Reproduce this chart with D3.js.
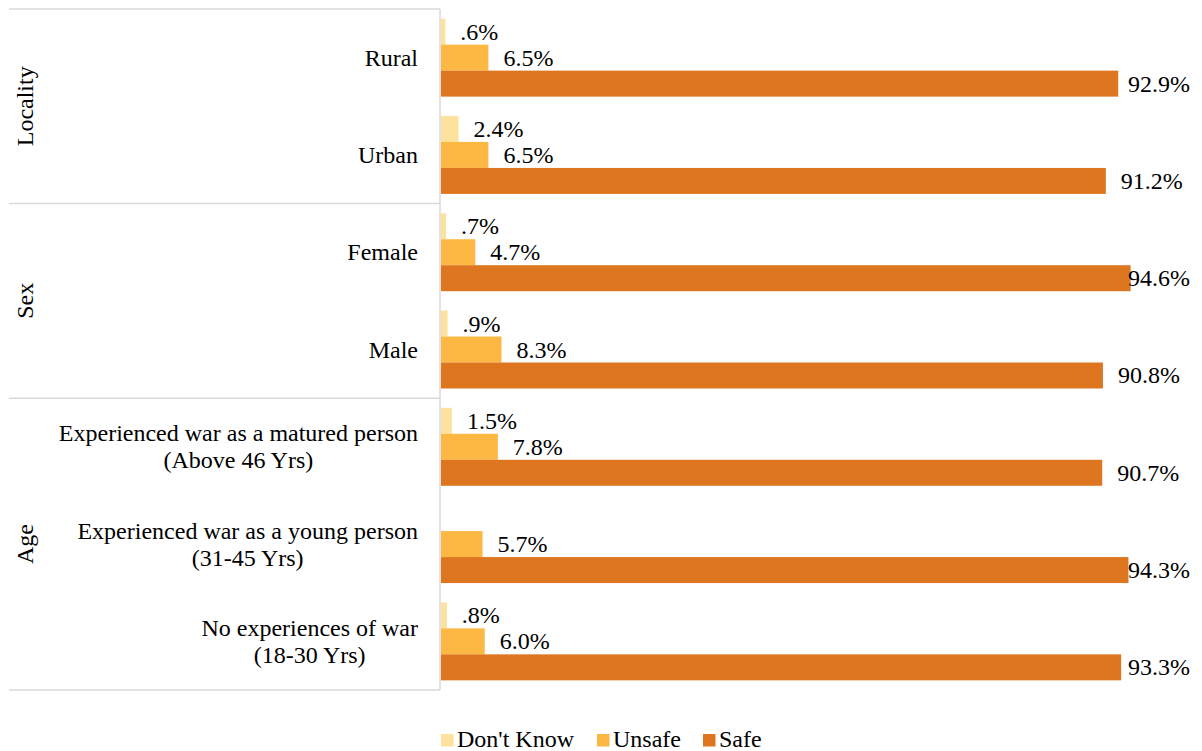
<!DOCTYPE html>
<html>
<head>
<meta charset="utf-8">
<script src="https://cdn.jsdelivr.net/npm/d3@7"></script>
<style>
  html, body { margin: 0; padding: 0; background: #fff; }
  svg { display: block; }
  text { font-family: "Liberation Serif", "Times New Roman", serif; fill: #000; }
</style>
</head>
<body>
<svg id="chart" width="1202" height="751"></svg>
<script>
// ---- data ----
const categories = [
  ["Rural"],
  ["Urban"],
  ["Female"],
  ["Male"],
  ["Experienced war as a matured person", "(Above 46 Yrs)"],
  ["Experienced war as a young person", "(31-45 Yrs)"],
  ["No experiences of war", "(18-30 Yrs)"]
];
const groups = ["Locality", "Sex", "Age"];
const groupSizes = [2, 2, 3];
const seriesNames = ["Don't Know", "Unsafe", "Safe"];
const dontKnow = [0.6, 2.4, 0.7, 0.9, 1.5, null, 0.8];
const unsafe   = [6.5, 6.5, 4.7, 8.3, 7.8, 5.7, 6.0];
const safe     = [92.9, 91.2, 94.6, 90.8, 90.7, 94.3, 93.3];
const colors = ["#FCE29C", "#FDB843", "#DE7620"];

// ---- layout ----
const svg = d3.select("#chart");
const FS = 24;
const plotTop = 9, plotBottom = 690, axisX = 440, leftX = 9, labelRight = 1190;

const rowIds = d3.range(categories.length);
const y = d3.scaleBand().domain(rowIds).range([plotTop, plotBottom]).paddingInner(0).paddingOuter(0);
const ySub = d3.scaleBand().domain(seriesNames).range([0, y.bandwidth()]).paddingInner(0).paddingOuter(0.371);
const x = d3.scaleLinear().domain([0, 100]).range([axisX + 1, 1170]);

const seriesData = [dontKnow, unsafe, safe];

const fmt = v => {
  const s = v.toFixed(1);
  return (s.startsWith("0.") ? s.slice(1) : s) + "%";
};

// bars
seriesNames.forEach((name, si) => {
  const g = svg.append("g");
  const data = rowIds.map(i => ({ i, v: seriesData[si][i] })).filter(d => d.v != null);
  g.selectAll("rect").data(data).enter().append("rect")
    .attr("x", x(0))
    .attr("y", d => y(d.i) + ySub(name))
    .attr("width", d => x(d.v) - x(0))
    .attr("height", ySub.bandwidth())
    .attr("fill", colors[si]);
  // labels
  const lbl = g.selectAll("text").data(data).enter().append("text")
    .attr("y", d => y(d.i) + ySub(name) + ySub.bandwidth() / 2 + 8)
    .attr("font-size", FS)
    .text(d => fmt(d.v));
  lbl.each(function(d) {
    const w = this.getComputedTextLength();
    const xx = Math.min(x(d.v) + 15, labelRight - w);
    d3.select(this).attr("x", xx);
  });
});

// grid / separator lines
const lineColor = "#D9D9D9";
svg.append("line").attr("x1", axisX).attr("x2", axisX).attr("y1", plotTop).attr("y2", plotBottom)
  .attr("stroke", lineColor).attr("stroke-width", 1.5);
let acc = 0;
const boundaries = [0];
groupSizes.forEach(n => { acc += n; boundaries.push(acc); });
boundaries.forEach(b => {
  const yy = b < categories.length ? y(b) : plotBottom;
  svg.append("line").attr("x1", leftX).attr("x2", axisX).attr("y1", yy).attr("y2", yy)
    .attr("stroke", lineColor).attr("stroke-width", 1.5);
});

// category labels
const catG = svg.append("g");
rowIds.forEach(i => {
  const lines = categories[i];
  const cy = y(i) + y.bandwidth() / 2 + 8;
  const t = catG.append("text").attr("font-size", FS).attr("text-anchor", "middle");
  const spans = lines.map((ln, k) => t.append("tspan")
    .attr("y", cy + (k - (lines.length - 1) / 2) * 27).text(ln));
  // right-align block at 418 with lines centered to each other
  let maxW = 0;
  spans.forEach(s => { maxW = Math.max(maxW, s.node().getComputedTextLength()); });
  const cx = 418 - maxW / 2;
  spans.forEach(s => s.attr("x", cx));
});

// group labels
groups.forEach((gname, gi) => {
  const y0 = y(boundaries[gi]);
  const y1 = boundaries[gi + 1] < categories.length ? y(boundaries[gi + 1]) : plotBottom;
  const cy = (y0 + y1) / 2;
  svg.append("text").attr("font-size", FS).attr("text-anchor", "middle")
    .attr("transform", `translate(33,${cy}) rotate(-90)`).text(gname);
});

// legend
const legendItems = [
  { name: seriesNames[0], sx: 441, tx: 457 },
  { name: seriesNames[1], sx: 597, tx: 613 },
  { name: seriesNames[2], sx: 703, tx: 719 }
];
const lg = svg.append("g");
legendItems.forEach((it, k) => {
  lg.append("rect").attr("x", it.sx).attr("y", 734).attr("width", 12.5).attr("height", 12.5).attr("fill", colors[k]);
  lg.append("text").attr("x", it.tx).attr("y", 747).attr("font-size", FS).text(it.name);
});
</script>
</body>
</html>
